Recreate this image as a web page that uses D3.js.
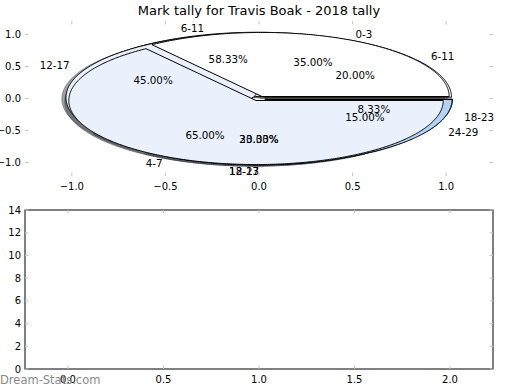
<!DOCTYPE html>
<html><head><meta charset="utf-8">
<script src="https://cdn.jsdelivr.net/npm/d3@7"></script>
<style>body{margin:0;background:#fff}svg{display:block;font-family:"DejaVu Sans",sans-serif}</style>
</head><body><svg id="c" width="520" height="390"></svg>
<script>
const titleText = "Mark tally for Travis Boak - 2018 tally";
const pie1Labels = ["0-3", "4-7"];
const pie1Values = [7, 13];
const pie2Labels = ["6-11", "12-17", "18-23"];
const pie2Values = [7, 4, 1];
const pie3Labels = ["6-11", "12-17", "18-23", "24-29"];
const pie3Values = [4, 9, 4, 3];
const wedgeColors = ["#ffffff", "#eaf1fd", "#cfe1fa", "#b3d2f8"];
const pieXTicks = [-1.0, -0.5, 0.0, 0.5, 1.0];
const pieYTicks = [-1.0, -0.5, 0.0, 0.5, 1.0];
const barXTicks = [0.0, 0.5, 1.0, 1.5, 2.0];
const barYTicks = [0, 2, 4, 6, 8, 10, 12, 14];
const watermark = "Dream-Stats.com";

const svg = d3.select("#c");
const L = 25, R = 493;
const topT = 21, topB = 176, botT = 210, botB = 369;
const explode = 0.035, shOff = -0.022;

const x1 = d3.scaleLinear().domain([-1.25, 1.25]).range([L, R]);
const y1 = d3.scaleLinear().domain([-1.21, 1.21]).range([topB, topT]);
const x2 = d3.scaleLinear().domain([-0.225, 2.225]).range([L, R]);
const y2 = d3.scaleLinear().domain([0, 14]).range([botB, botT]);

const fmtTick = v => d3.format(".1f")(v).replace("-", "\u2212");

// title
svg.append("text").attr("x", (L + R) / 2).attr("y", 10).attr("text-anchor", "middle")
  .attr("dominant-baseline", "central").attr("font-size", 13).text(titleText);

// pies: drawn in order, pie1 on top
const pies = [
  {labels: pie2Labels, values: pie2Values},
  {labels: pie3Labels, values: pie3Values},
  {labels: pie1Labels, values: pie1Values}
];
const wedges = [];
pies.forEach(p => {
  const tot = d3.sum(p.values);
  let acc = 0;
  p.values.forEach((v, i) => {
    const t1 = acc / tot * 2 * Math.PI;
    acc += v;
    const t2 = acc / tot * 2 * Math.PI;
    const m = (t1 + t2) / 2;
    wedges.push({t1, t2, m, pct: v / tot * 100, label: p.labels[i], color: wedgeColors[i % wedgeColors.length],
      cx: explode * Math.cos(m), cy: explode * Math.sin(m)});
  });
});
function wedgePts(w, ox, oy) {
  const pts = [[w.cx + ox, w.cy + oy]];
  const n = Math.max(8, Math.ceil((w.t2 - w.t1) / 0.01));
  for (let k = 0; k <= n; k++) {
    const t = w.t1 + (w.t2 - w.t1) * k / n;
    pts.push([w.cx + ox + Math.cos(t), w.cy + oy + Math.sin(t)]);
  }
  return pts;
}
const line = d3.line().x(d => x1(d[0])).y(d => y1(d[1]));
const gPie = svg.append("g");
// shadows beneath everything
wedges.forEach(w => {
  const c = d3.rgb(w.color);
  const sc = d3.rgb(c.r * 0.3, c.g * 0.3, c.b * 0.3);
  gPie.append("path").attr("d", line(wedgePts(w, shOff, shOff)) + "Z")
    .attr("fill", sc).attr("fill-opacity", 0.5).attr("stroke", sc).attr("stroke-opacity", 0.5).attr("stroke-width", 1);
});
wedges.forEach(w => {
  gPie.append("path").attr("d", line(wedgePts(w, 0, 0)) + "Z")
    .attr("fill", w.color).attr("stroke", "#000").attr("stroke-width", 1).attr("stroke-linejoin", "round");
});
const gTxt = svg.append("g").attr("font-size", 10.3);
wedges.forEach(w => {
  const lx = w.cx + 1.1 * Math.cos(w.m), ly = w.cy + 1.1 * Math.sin(w.m);
  gTxt.append("text").attr("x", x1(lx)).attr("y", y1(ly))
    .attr("text-anchor", lx > 1e-9 ? "start" : "end").attr("dominant-baseline", "central").text(w.label);
  const px = w.cx + 0.6 * Math.cos(w.m), py = w.cy + 0.6 * Math.sin(w.m);
  gTxt.append("text").attr("x", x1(px)).attr("y", y1(py))
    .attr("text-anchor", "middle").attr("dominant-baseline", "central").text(d3.format(".2f")(w.pct) + "%");
});

// ticks helper
function ticks(g, xs, ys, xv, yv, top, bot) {
  const tc = "#c4c4c4", len = 3.5;
  xv.forEach(v => {
    g.append("line").attr("x1", xs(v)).attr("x2", xs(v)).attr("y1", bot).attr("y2", bot - len).attr("stroke", tc);
    g.append("line").attr("x1", xs(v)).attr("x2", xs(v)).attr("y1", top).attr("y2", top + len).attr("stroke", tc);
    g.append("text").attr("x", xs(v)).attr("y", bot + 10).attr("text-anchor", "middle")
      .attr("dominant-baseline", "central").attr("font-size", 10).text(fmtTick(v));
  });
  yv.forEach(v => {
    g.append("line").attr("x1", L).attr("x2", L + len).attr("y1", ys(v)).attr("y2", ys(v)).attr("stroke", tc);
    g.append("line").attr("x1", R).attr("x2", R - len).attr("y1", ys(v)).attr("y2", ys(v)).attr("stroke", tc);
  });
}
const gA = svg.append("g");
ticks(gA, x1, y1, pieXTicks, pieYTicks, topT, topB);
pieYTicks.forEach(v => {
  gA.append("text").attr("x", L - 4).attr("y", y1(v)).attr("text-anchor", "end")
    .attr("dominant-baseline", "central").attr("font-size", 10).text(fmtTick(v));
});

// bottom empty axes
const gB = svg.append("g");
gB.append("rect").attr("x", L).attr("y", botT).attr("width", R - L).attr("height", botB - botT)
  .attr("fill", "#fff").attr("stroke", "#000").attr("stroke-width", 1);
ticks(gB, x2, y2, barXTicks, barYTicks, botT, botB);
barYTicks.forEach(v => {
  gB.append("text").attr("x", L - 4).attr("y", y2(v)).attr("text-anchor", "end")
    .attr("dominant-baseline", "central").attr("font-size", 10).text(String(v));
});

svg.append("text").attr("x", 0).attr("y", 380).attr("dominant-baseline", "central")
  .attr("font-size", 11.5).attr("fill", "#8a8a8a").text(watermark);
</script></body></html>
